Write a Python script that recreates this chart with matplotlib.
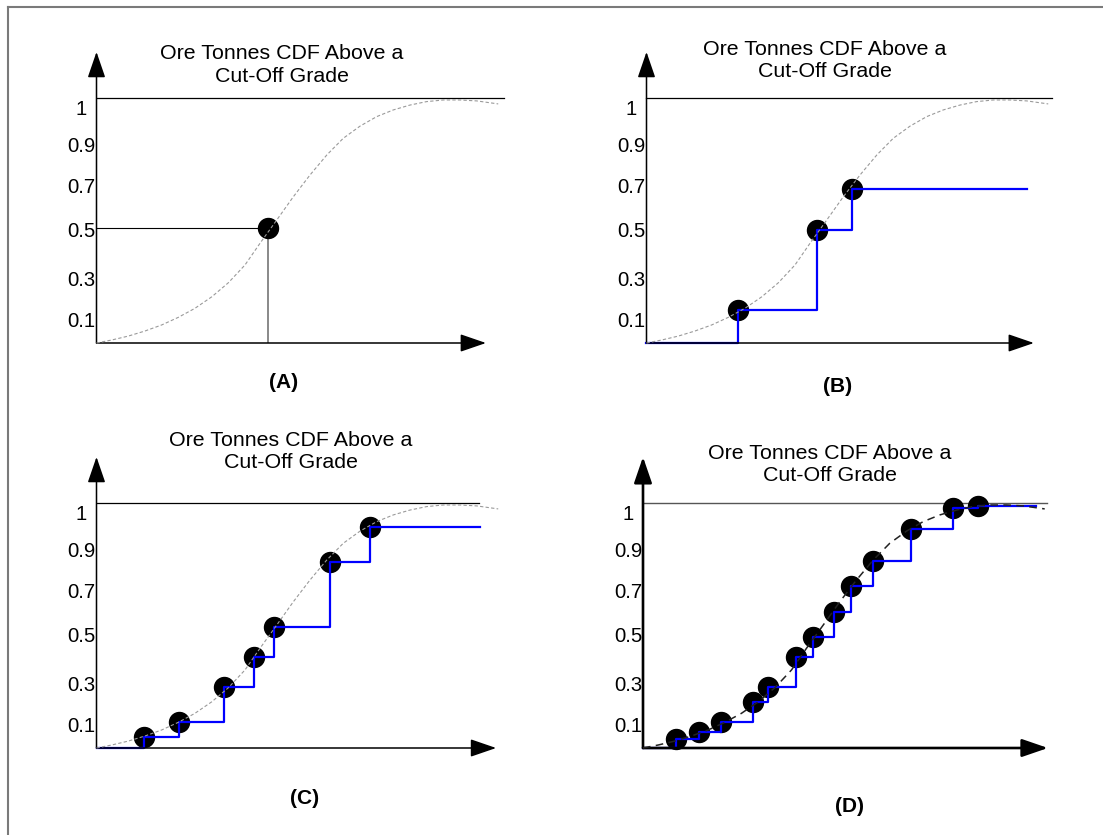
import matplotlib
matplotlib.use("Agg")
import matplotlib.pyplot as plt
from matplotlib.lines import Line2D

plt.rcParams['font.family'] = ['Liberation Sans', 'DejaVu Sans']

W, H = 1103, 835
PX = 231.0  # pixels per data unit, same on both axes

title = "Ore Tonnes CDF Above a\nCut-Off Grade"
tick_labels = ['0.1', '0.3', '0.5', '0.7', '0.9', '1']
tick_pos = [0.10, 0.28, 0.49, 0.68, 0.86, 1.02]
top_level = 1.06

# underlying tonnage curve, shared by all four panels
cdf_x = [0.0, 0.066, 0.138, 0.210, 0.282, 0.354, 0.426, 0.499, 0.571, 0.643,
         0.708, 0.780, 0.852, 0.924, 0.997, 1.068, 1.141, 1.213, 1.285, 1.357,
         1.429, 1.501, 1.574, 1.646, 1.739]
cdf_y = [0.0, 0.013, 0.030, 0.052, 0.078, 0.111, 0.150, 0.200, 0.261, 0.338,
         0.432, 0.532, 0.633, 0.727, 0.814, 0.886, 0.939, 0.980, 1.009, 1.030,
         1.045, 1.052, 1.052, 1.048, 1.035]

# sampled grades / cumulative tonnes
a_x = [0.744]
a_y = [0.50]
b_x = [0.396, 0.738, 0.890]
b_y = [0.143, 0.489, 0.667]
c_x = [0.206, 0.357, 0.552, 0.682, 0.768, 1.011, 1.184]
c_y = [0.048, 0.113, 0.264, 0.394, 0.524, 0.805, 0.957]
d_x = [0.143, 0.242, 0.338, 0.478, 0.541, 0.662, 0.736, 0.825, 0.900,
       0.996, 1.160, 1.342, 1.450]
d_y = [0.039, 0.069, 0.113, 0.199, 0.264, 0.394, 0.481, 0.589, 0.701,
       0.810, 0.948, 1.039, 1.048]

fig = plt.figure(figsize=(W / 100, H / 100), dpi=100)


def fx(px):
    return px / W


def fy(py):
    return 1 - py / H


def make_axes(ox, oy, xmax=1.85, ymax=1.3):
    rect = [fx(ox), fy(oy), xmax * PX / W, ymax * PX / H]
    ax = fig.add_axes(rect)
    ax.set_xlim(0, xmax)
    ax.set_ylim(0, ymax)
    ax.patch.set_visible(False)
    for s in ax.spines.values():
        s.set_visible(False)
    ax.set_xticks([])
    ax.set_yticks(tick_pos, tick_labels)
    ax.tick_params(axis='y', length=0, pad=10.8, labelsize=14.6)
    for lbl in ax.get_yticklabels():
        lbl.set_horizontalalignment('center')
    return ax


def axis_arrows(ax, xlen, lw=1.1):
    style = "-|>,head_length=1.6,head_width=0.55"
    for tip in [(xlen, 0), (0, 1.26)]:
        ax.annotate('', xy=tip, xytext=(0, 0),
                    arrowprops=dict(arrowstyle=style, mutation_scale=10,
                                    color='black', lw=lw, shrinkA=0, shrinkB=0),
                    annotation_clip=False)


def steps(ax, xs, ys, xend):
    ax.step([0] + xs + [xend], [0] + ys + [ys[-1]], where='post',
            color='#0000ff', lw=1.6, zorder=3, clip_on=False)


def panel_text(cx, cy, lx, ly, letter):
    fig.text(fx(cx), fy(cy), title, ha='center', va='center', fontsize=15.4,
             linespacing=1.25)
    fig.text(fx(lx), fy(ly), letter, ha='center', va='center', fontsize=15,
             fontweight='bold')


dot = dict(marker='o', ms=14.4, color='black', ls='none', zorder=2,
           clip_on=False)
gray_curve = dict(color='#9a9a9a', lw=0.8, ls=(0, (3, 2)), zorder=4,
                  clip_on=False)

# (A)
ax = make_axes(96.5, 343)
ax.plot([0, 1.762], [top_level, top_level], color='black', lw=0.9, clip_on=False)
ax.plot(cdf_x, cdf_y, **gray_curve)
ax.plot([0, a_x[0]], [a_y[0], a_y[0]], color='black', lw=0.8)
ax.plot([a_x[0], a_x[0]], [0, a_y[0]], color='#808080', lw=1.3)
ax.plot(a_x, a_y, **dot)
axis_arrows(ax, 1.686)
panel_text(282, 65, 284, 383, '(A)')

# (B)
ax = make_axes(646.5, 343)
ax.plot([0, 1.755], [top_level, top_level], color='black', lw=0.9, clip_on=False)
ax.plot(b_x, b_y, **dot)
steps(ax, b_x, b_y, 1.647)
ax.plot(cdf_x, cdf_y, **gray_curve)
axis_arrows(ax, 1.677)
panel_text(825, 60.5, 838, 387, '(B)')

# (C)
ax = make_axes(96.5, 748)
ax.plot([0, 1.656], [top_level, top_level], color='black', lw=0.9, clip_on=False)
ax.plot(c_x, c_y, **dot)
steps(ax, c_x, c_y, 1.66)
ax.plot(cdf_x, cdf_y, **gray_curve)
axis_arrows(ax, 1.73)
panel_text(290.5, 451.5, 305, 798, '(C)')

# (D)
ax = make_axes(643, 748)
ax.plot([0, 1.751], [top_level, top_level], color='#555555', lw=1.0, clip_on=False)
ax.plot(d_x, d_y, **dot)
steps(ax, d_x, d_y, 1.701)
ax.plot(cdf_x, cdf_y, color='#222222', lw=1.1, ls=(0, (5, 3.5)),
        zorder=4, clip_on=False)
axis_arrows(ax, 1.753, lw=1.9)
panel_text(830, 464.5, 850, 807, '(D)')

# page frame
fig.add_artist(Line2D([fx(8), 1], [fy(7), fy(7)], color='#7a7a7a', lw=1.5))
fig.add_artist(Line2D([fx(8), fx(8)], [fy(7), 0], color='#7a7a7a', lw=1.5))

fig.savefig('out.png', dpi=100)
